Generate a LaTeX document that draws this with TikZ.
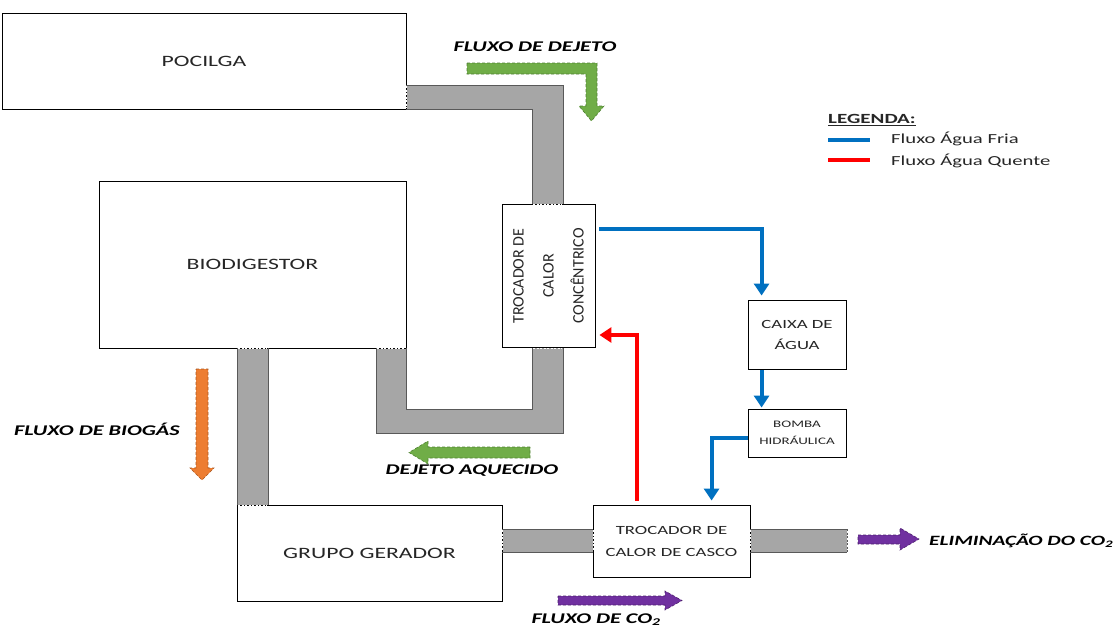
\documentclass[tikz,border=0pt]{standalone}
\usepackage{fontspec}
\setmainfont{Carlito}[FakeStretch=1.5]
\newfontfamily\rotfont{Carlito}
\usetikzlibrary{arrows.meta,positioning}

\definecolor{pipegray}{HTML}{A6A6A6}
\definecolor{pipeline}{HTML}{595959}
\definecolor{fria}{HTML}{0070C0}
\definecolor{quente}{HTML}{FF0000}
\definecolor{dejgreen}{HTML}{70AD47}
\definecolor{dejgreendk}{HTML}{4E7F32}
\definecolor{gasorange}{HTML}{ED7D31}
\definecolor{gasorangedk}{HTML}{A9561E}
\definecolor{cotwo}{HTML}{7030A0}
\definecolor{cotwodk}{HTML}{4B1F6B}
\definecolor{boxtext}{HTML}{262626}

\tikzset{
  unit/.style={draw=black, line width=0.9pt, fill=white, text=boxtext,
    align=center, inner sep=0pt, font=\fontsize{15.8}{24}\selectfont},
  pipefill/.style={fill=pipegray},
  pipeedge/.style={draw=pipeline, line width=0.9pt},
  joint/.style={draw=white, line width=0.9pt, dash pattern=on 2pt off 1.5pt},
  frialine/.style={draw=fria, line width=4pt,
    -{Triangle[width=15pt,length=12pt]}},
  quenteline/.style={draw=quente, line width=4pt,
    -{Triangle[width=15pt,length=12pt]}},
  flowlabel/.style={font=\bfseries\itshape\fontsize{14.8}{16}\selectfont,
    text=black, inner sep=0pt},
  legtext/.style={font=\fontsize{13.8}{15}\selectfont, text=boxtext,
    anchor=west, inner sep=0pt},
}

\begin{document}
\begin{tikzpicture}[x=1pt,y=-1pt]
  \useasboundingbox (0,0) rectangle (1120,630);

  % pipes
  \fill[pipefill] (406,85) -- (563,85) -- (563,204) -- (532,204)
    -- (532,109) -- (406,109) -- cycle;
  \fill[pipefill] (532,348) -- (563,348) -- (563,433) -- (376,433)
    -- (376,348) -- (406,348) -- (406,409) -- (532,409) -- cycle;
  \fill[pipefill] (237,348) rectangle (268,505);
  \fill[pipefill] (502,529) rectangle (593,552);
  \fill[pipefill] (750,529) rectangle (847,552);

  \node[unit, minimum width=404pt, minimum height=96pt] (pocilga)
    at (204,61) {POCILGA};
  \node[unit, minimum width=307pt, minimum height=167pt] (biodig)
    at (252.5,264.5) {BIODIGESTOR};
  \node[unit, minimum width=93pt, minimum height=143pt] (conc)
    at (548.5,276) {};
  \node[rotate=90, align=center, text=boxtext, inner sep=0pt,
    font=\rotfont\fontsize{16}{30}\selectfont] (conctext) at (conc.center)
    {TROCADOR DE\\CALOR\\CONCÊNTRICO};
  \node[unit, minimum width=265pt, minimum height=96pt] (gerador)
    at (369.5,553) {GRUPO GERADOR};
  \node[unit, minimum width=157pt, minimum height=72pt,
    font=\fontsize{12.5}{22}\selectfont] (casco)
    at (671.5,541) {TROCADOR DE\\CALOR DE CASCO};
  \node[unit, minimum width=98pt, minimum height=69pt,
    font=\fontsize{12.5}{21}\selectfont] (caixa)
    at (797,334.5) {CAIXA DE\\ÁGUA};
  \node[unit, minimum width=98pt, minimum height=48pt,
    font=\fontsize{10}{17}\selectfont] (bomba)
    at (797,433) {BOMBA\\HIDRÁULICA};

  % pipe edges and joints
  \draw[pipeedge] (406,85) -- (563,85) -- (563,204);
  \draw[pipeedge] (406,109) -- (532,109) -- (532,204);
  \draw[pipeedge] (563,348) -- (563,433) -- (376,433) -- (376,348);
  \draw[pipeedge] (406,348) -- (406,409) -- (532,409) -- (532,348);
  \draw[pipeedge] (237,348) -- (237,505);
  \draw[pipeedge] (268,348) -- (268,505);
  \draw[pipeedge] (502,529) -- (593,529);
  \draw[pipeedge] (502,552) -- (593,552);
  \draw[pipeedge] (750,529) -- (847,529);
  \draw[pipeedge] (750,552) -- (847,552);
  \draw[pipeedge, dash pattern=on 2pt off 1.5pt] (847,529) -- (847,552);
  \draw[joint] (406,86) -- (406,108);
  \draw[joint] (533,204) -- (562,204);
  \draw[joint] (533,348) -- (562,348);
  \draw[joint] (377,348) -- (405,348);
  \draw[joint] (238,348) -- (267,348);
  \draw[joint] (238,505) -- (267,505);
  \draw[joint] (502,530) -- (502,551);
  \draw[joint] (593,530) -- (593,551);
  \draw[joint] (750,530) -- (750,551);

  % water circuit
  \draw[frialine] ([xshift=4pt,yshift=-25pt]conc.north east)
    -| ([xshift=14pt,yshift=4pt]caixa.north west);
  \draw[frialine] ([xshift=14pt,yshift=-1pt]caixa.south west)
    -- ([xshift=14pt,yshift=1pt]bomba.north west);
  \draw[frialine] ([yshift=-5pt]bomba.west)
    -| ([xshift=119pt,yshift=4pt]casco.north west);
  \draw[quenteline] ([xshift=44pt,yshift=4pt]casco.north west)
    |- ([xshift=4pt,yshift=-59pt]conc.east);

  % flow arrows
  \filldraw[fill=dejgreen, draw=dejgreendk, densely dashed, line width=0.6pt]
    (467,63) -- (597,63) -- (597,106) -- (604,106) -- (591.5,121)
    -- (579,106) -- (586,106) -- (586,74) -- (467,74) -- cycle;
  \filldraw[fill=dejgreen, draw=dejgreendk, densely dashed, line width=0.6pt]
    (530,447) -- (428,447) -- (428,441) -- (409,452.5) -- (428,464)
    -- (428,458) -- (530,458) -- cycle;
  \filldraw[fill=gasorange, draw=gasorangedk, densely dashed, line width=0.6pt]
    (196,369) -- (208,369) -- (208,468) -- (214,468) -- (202,480)
    -- (190,468) -- (196,468) -- cycle;
  \filldraw[fill=cotwo, draw=cotwodk, densely dashed, line width=0.6pt]
    (558,596) -- (665,596) -- (665,591) -- (682,600.5) -- (665,610)
    -- (665,605) -- (558,605) -- cycle;
  \filldraw[fill=cotwo, draw=cotwodk, densely dashed, line width=0.6pt]
    (858,535) -- (900,535) -- (900,528) -- (919,539) -- (900,550)
    -- (900,544) -- (858,544) -- cycle;

  % flow labels
  \node[flowlabel] (ldejeto) at (535,47) {FLUXO DE DEJETO};
  \node[flowlabel] (lbiogas) at (97,429) {FLUXO DE BIOGÁS};
  \node[flowlabel] (laquec) at (472,471) {DEJETO AQUECIDO};
  \node[flowlabel] (lcotwo) at (596,620) {FLUXO DE CO\textsubscript{2}};
  \node[flowlabel, anchor=west, font=\bfseries\itshape\fontsize{14.2}{16}\selectfont]
    (lelim) at (929,541) {ELIMINAÇÃO DO CO\textsubscript{2}};

  % legend
  \node[font=\bfseries\fontsize{14}{15}\selectfont, anchor=west,
    inner sep=0pt, text=boxtext] (legtit) at (828,120) {\underline{LEGENDA:}};
  \coordinate (lfa) at (828,140);
  \coordinate (lfb) at (870,140);
  \coordinate (lqa) at (828,160);
  \coordinate (lqb) at (870,160);
  \draw[fria, line width=4pt] (lfa) -- (lfb);
  \draw[quente, line width=4pt] (lqa) -- (lqb);
  \node[legtext] (lfria) at (891,139) {Fluxo Água Fria};
  \node[legtext] (lquente) at (891,161) {Fluxo Água Quente};
\end{tikzpicture}
\end{document}
